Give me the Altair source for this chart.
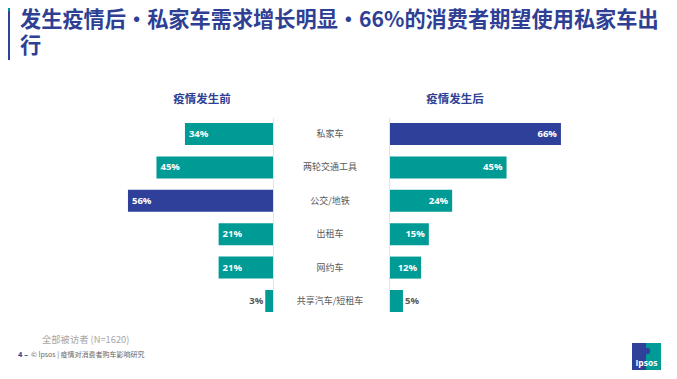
import altair as alt
import pandas as pd

categories = ["私家车", "两轮交通工具", "公交/地铁", "出租车", "网约车", "共享汽车/短租车"]
before_vals = [34, 45, 56, 21, 21, 3]
after_vals = [66, 45, 24, 15, 12, 5]
highlight_before = "公交/地铁"
highlight_after = "私家车"

title_line1 = "发生疫情后・私家车需求增长明显・66%的消费者期望使用私家车出"
title_line2 = "行"
panel_before = "疫情发生前"
panel_after = "疫情发生后"
base_note = "全部被访者 (N=1620)"
footer_num = "4 –"
footer_text = "© Ipsos | 疫情对消费者购车影响研究"

TEAL = "#009B95"
BLUE = "#2F409A"
TITLE_BLUE = "#2E3F94"
GREY = "#595959"
CJK = "Noto Sans CJK SC"
NUM = "Open Sans"

df = pd.DataFrame({"cat": categories, "before": before_vals, "after": after_vals})
df["label_b"] = df["before"].astype(str) + "%"
df["label_a"] = df["after"].astype(str) + "%"
df["hb"] = df["cat"] == highlight_before
df["ha"] = df["cat"] == highlight_after

y_scale = alt.Scale(domain=categories, range=[109.3, 309.7], paddingInner=0.34, paddingOuter=0.17)
x_left = alt.Scale(domain=[0, 100], range=[265, 6])
x_right = alt.Scale(domain=[0, 100], range=[382, 641])

Y = alt.Y("cat:N", scale=y_scale, axis=None, sort=categories)

left_bars = alt.Chart(df).mark_bar().encode(
    x=alt.X("before:Q", scale=x_left, axis=None),
    x2=alt.datum(0),
    y=Y,
    color=alt.condition("datum.hb", alt.value(BLUE), alt.value(TEAL)),
)
right_bars = alt.Chart(df).mark_bar().encode(
    x=alt.X("after:Q", scale=x_right, axis=None),
    x2=alt.datum(0),
    y=Y,
    color=alt.condition("datum.ha", alt.value(BLUE), alt.value(TEAL)),
)

left_in = alt.Chart(df).transform_filter("datum.before >= 8").mark_text(
    align="left", baseline="middle", dx=4, font=NUM, fontWeight="bold", fontSize=9.5, color="white"
).encode(x=alt.X("before:Q", scale=x_left, axis=None), y=Y, text="label_b:N")
left_out = alt.Chart(df).transform_filter("datum.before < 8").mark_text(
    align="right", baseline="middle", dx=-2, font=NUM, fontWeight="bold", fontSize=9.5, color=GREY
).encode(x=alt.X("before:Q", scale=x_left, axis=None), y=Y, text="label_b:N")

right_in = alt.Chart(df).transform_filter("datum.after >= 8").mark_text(
    align="right", baseline="middle", dx=-4, font=NUM, fontWeight="bold", fontSize=9.5, color="white"
).encode(x=alt.X("after:Q", scale=x_right, axis=None), y=Y, text="label_a:N")
right_out = alt.Chart(df).transform_filter("datum.after < 8").mark_text(
    align="left", baseline="middle", dx=2, font=NUM, fontWeight="bold", fontSize=9.5, color=GREY
).encode(x=alt.X("after:Q", scale=x_right, axis=None), y=Y, text="label_a:N")

cat_labels = alt.Chart(df).mark_text(
    align="center", baseline="middle", font=CJK, fontSize=9, color=GREY
).encode(x=alt.value(322), y=Y, text="cat:N")

one = pd.DataFrame({"k": [0]})

rule_l = alt.Chart(one).mark_rule(color="#E3E3E3", strokeWidth=1).encode(
    x=alt.value(265.5), y=alt.value(110), y2=alt.value(304))
rule_r = alt.Chart(one).mark_rule(color="#E3E3E3", strokeWidth=1).encode(
    x=alt.value(381.5), y=alt.value(110), y2=alt.value(304))

accent_t = alt.Chart(one).mark_rect(color=TEAL).encode(
    x=alt.value(0), x2=alt.value(2), y=alt.value(0), y2=alt.value(3))
accent_b = alt.Chart(one).mark_rect(color=BLUE).encode(
    x=alt.value(0), x2=alt.value(2), y=alt.value(3), y2=alt.value(52))

title1 = alt.Chart(one).mark_text(
    align="left", baseline="top", font=CJK, fontSize=21.2, fontWeight="bold", color=TITLE_BLUE
).encode(x=alt.value(12), y=alt.value(2), text=alt.value(title_line1))
title2 = alt.Chart(one).mark_text(
    align="left", baseline="top", font=CJK, fontSize=21.2, fontWeight="bold", color=TITLE_BLUE
).encode(x=alt.value(12), y=alt.value(28), text=alt.value(title_line2))

pt_b = alt.Chart(one).mark_text(
    align="center", baseline="middle", font=CJK, fontSize=11.5, fontWeight="bold", color=TITLE_BLUE
).encode(x=alt.value(194), y=alt.value(92), text=alt.value(panel_before))
pt_a = alt.Chart(one).mark_text(
    align="center", baseline="middle", font=CJK, fontSize=11.5, fontWeight="bold", color=TITLE_BLUE
).encode(x=alt.value(447), y=alt.value(92), text=alt.value(panel_after))

note = alt.Chart(one).mark_text(
    align="left", baseline="middle", font=CJK, fontSize=9.3, color="#A6A6A6"
).encode(x=alt.value(34), y=alt.value(332), text=alt.value(base_note))
f_num = alt.Chart(one).mark_text(
    align="left", baseline="middle", font=NUM, fontSize=7.5, fontWeight="bold", color=TITLE_BLUE
).encode(x=alt.value(10), y=alt.value(347), text=alt.value(footer_num))
f_txt = alt.Chart(one).mark_text(
    align="left", baseline="middle", font=CJK, fontSize=7, color="#666666"
).encode(x=alt.value(23), y=alt.value(347), text=alt.value(footer_text))

logo_b = alt.Chart(one).mark_rect(color=BLUE).encode(
    x=alt.value(624), x2=alt.value(653), y=alt.value(335), y2=alt.value(362))
logo_t = alt.Chart(one).mark_rect(color=TEAL).encode(
    x=alt.value(638), x2=alt.value(653), y=alt.value(335), y2=alt.value(362))
logo_h = alt.Chart(one).mark_circle(color=BLUE, opacity=1, size=40).encode(
    x=alt.value(639), y=alt.value(343))
logo_txt = alt.Chart(one).mark_text(
    align="center", baseline="middle", font=NUM, fontSize=8.5, fontWeight="bold", color="white"
).encode(x=alt.value(638.5), y=alt.value(355), text=alt.value("Ipsos"))

chart = alt.layer(
    accent_t, accent_b, title1, title2, pt_b, pt_a, rule_l, rule_r,
    left_bars, right_bars, left_in, left_out, right_in, right_out, cat_labels,
    note, f_num, f_txt, logo_b, logo_t, logo_h, logo_txt,
).resolve_scale(x="independent").properties(
    width=661, height=363, autosize=alt.AutoSizeParams(type="none"), padding=0
).configure_view(stroke=None)

chart.save("out.html", embed_options={"renderer": "svg", "actions": False})
